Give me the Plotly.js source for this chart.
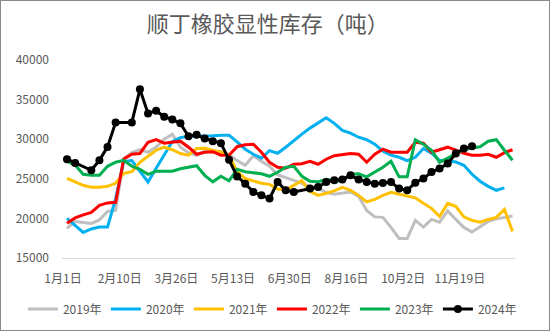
<!DOCTYPE html>
<html>
<head>
<meta charset="utf-8">
<script src="https://cdn.plot.ly/plotly-3.0.1.min.js"></script>
<style>
  html, body { margin: 0; padding: 0; background: #ffffff; }
  #chart { width: 548px; height: 329px; border: 1px solid #898989; }
</style>
</head>
<body>
<div id="chart"></div>
<script>
// Tick labels (shown every 7 weekly categories)
const tickLabels = ["1月1日", "2月10日", "3月26日", "5月13日", "6月30日", "8月16日", "10月2日", "11月19日"];
const seriesNames = ["2019年", "2020年", "2021年", "2022年", "2023年", "2024年"];
const yTicks = [15000, 20000, 25000, 30000, 35000, 40000];

// Weekly values (tons)
const s2019 = [18730, 19620, 19490, 19370, 19810, 20890, 21010, 27500, 28300, 28700,
  28350, 29000, 30000, 30630, 29000, 28300, 27950, 28500, 28400, 28400,
  28100, 27300, 26700, 27900, 27220, 26580, 25500, 25190, 24810, 24430,
  23990, 23800, 23290, 23040, 23170, 23330, 22790, 21010, 20190, 20130,
  18860, 17470, 17470, 19750, 18900, 19870, 19530, 20950, 19870, 18860,
  18290, 18990, 19620, 19940, 20130, 20300];
const s2020 = [20000, 19110, 18230, 18670, 18900, 18900, 22500, 27200, 27300, 25950,
  24600, 26330, 28000, 29700, 30200, 30380, 30380, 30380, 30440, 30510,
  30510, 29660, 28740, 28100, 27600, 28550, 28230, 28990, 29870, 30640,
  31400, 32090, 32700, 32000, 31100, 30760, 30250, 29930, 29370, 28480,
  27980, 27720, 27280, 27720, 28820, 28230, 27340, 27280, 27130, 26710,
  25570, 24690, 24050, 23550, 23860];
const s2021 = [25060, 24620, 24180, 23930, 23930, 24050, 24430, 25690, 25890, 27090,
  27850, 28610, 28990, 28670, 28190, 27980, 28820, 28860, 28610, 28400,
  27980, 25900, 25030, 24750, 24430, 24300, 23700, 23600, 24200, 24750,
  23420, 22910, 23170, 23480, 23930, 23550, 22910, 22090, 22410, 22910,
  23290, 23040, 22850, 22600, 21900, 21270, 20250, 21900, 21520, 20190,
  19750, 19530, 19870, 20130, 21140, 18360];
const s2022 = [19400, 20060, 20440, 20760, 21650, 21960, 22030, 27500, 28100, 28200,
  29620, 29940, 29490, 29620, 29750, 28990, 28100, 28360, 28420, 27980,
  27980, 29050, 29300, 29370, 28360, 27090, 26460, 26330, 26840, 26900,
  27220, 26840, 27470, 27920, 28100, 28190, 28100, 27090, 28100, 28740,
  28360, 28360, 28360, 29620, 29490, 28360, 28680, 28990, 28610, 28230,
  27980, 27980, 28100, 27720, 28290, 28670];
const s2023 = [27200, 26740, 25570, 25440, 25440, 26580, 27090, 27340, 26580, 26200,
  25570, 25950, 25950, 25950, 26270, 26460, 26650, 25440, 24620, 25320,
  24750, 26200, 25890, 25760, 25630, 25320, 25820, 26460, 26580, 25320,
  24690, 24620, 24940, 24750, 24690, 25570, 25630, 25250, 25820, 26460,
  27220, 25250, 25250, 29940, 29370, 28610, 27090, 27600, 28230, 28670,
  28920, 29050, 29750, 29940, 28610, 27340];
const s2024 = [27470, 27000, null, 26080, 27340, 29030, 32120, null, 32120, 36300,
  33260, 33590, 32830, 32500, 32000, 30380, 30550, 30090, 29750, 29500,
  27400, 25300, 24390, 23330, 22910, 22500, 24600, 23550, 23330, null,
  23760, 23960, 24600, 24810, 24900, 25440, 24900, 24600, 24390, 24470,
  24600, 23760, 23550, 24500, 25030, 25860, 26290, 26930, 28190, 28820,
  29120];

const colors = ["#BFBFBF", "#00B0F0", "#FFC000", "#FF0000", "#00B050", "#000000"];
const allSeries = [s2019, s2020, s2021, s2022, s2023, s2024];

const traces = allSeries.map((vals, k) => {
  const isLast = k === allSeries.length - 1;
  const t = {
    type: "scatter",
    mode: isLast ? "lines+markers" : "lines",
    name: seriesNames[k],
    x: vals.map((_, i) => i),
    y: vals,
    connectgaps: true,
    line: { color: colors[k], width: 3 },
    hoverinfo: "skip"
  };
  if (isLast) t.marker = { color: colors[k], size: 8 };
  return t;
});

const tickPos = tickLabels.map((_, k) => 7 * k - 0.5);
const fontFam = "'Noto Sans CJK SC', 'Noto Sans', sans-serif";

const layout = {
  width: 548,
  height: 329,
  paper_bgcolor: "#ffffff",
  plot_bgcolor: "#ffffff",
  margin: { l: 61, r: 34, t: 59, b: 72, autoexpand: false },
  font: { family: fontFam, color: "#595959", size: 12 },
  title: {
    text: "顺丁橡胶显性库存（吨）",
    font: { family: fontFam, size: 22, color: "#595959" },
    x: 0.487, xref: "container", xanchor: "center",
    y: 0.93, yref: "container", yanchor: "middle"
  },
  xaxis: {
    range: [-0.62, 55.31],
    tickmode: "array",
    tickvals: tickPos,
    ticktext: tickLabels,
    showgrid: false,
    zeroline: false,
    showline: true,
    linecolor: "#D9D9D9",
    linewidth: 1,
    ticks: "",
    ticklabelstandoff: 10,
    tickfont: { size: 12, color: "#595959" },
    fixedrange: true
  },
  yaxis: {
    range: [15000, 40000],
    tickmode: "array",
    tickvals: yTicks,
    ticktext: yTicks.map(String),
    showgrid: false,
    zeroline: false,
    showline: false,
    ticks: "",
    ticklabelstandoff: 12,
    tickfont: { size: 12, color: "#595959" },
    fixedrange: true
  },
  showlegend: true,
  legend: {
    orientation: "h",
    xref: "paper", yref: "paper",
    x: -0.0863, xanchor: "left",
    y: -0.258, yanchor: "middle",
    font: { size: 12, color: "#595959" },
    traceorder: "normal",
    itemwidth: 30,
    entrywidth: 38,
    entrywidthmode: "pixels"
  }
};

Plotly.newPlot("chart", traces, layout, { displayModeBar: false, staticPlot: true });
</script>
</body>
</html>
